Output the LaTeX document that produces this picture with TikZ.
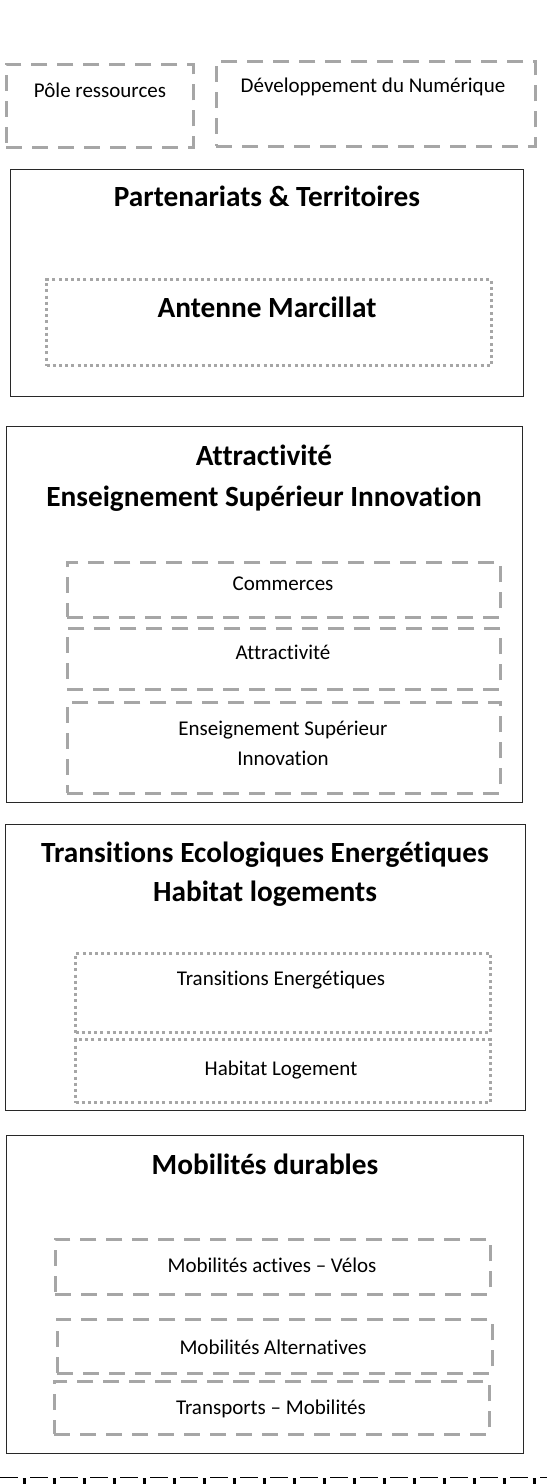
\documentclass[tikz,border=0pt]{standalone}
\usepackage{fontspec}
\setmainfont{Carlito}[Ligatures={NoCommon,TeX}]
\definecolor{boxgray}{RGB}{166,166,166}
\definecolor{framecol}{RGB}{40,40,40}
\newcommand{\bodyfont}{\fontsize{21}{30}\selectfont}
\newcommand{\titlefont}{\bfseries\fontsize{29.3}{40}\selectfont}
\begin{document}
\begin{tikzpicture}[x=1pt,y=-1pt,
  outerbox/.style={draw=framecol,line width=1.3pt,anchor=north west,inner sep=0pt},
  dashbox/.style={draw=boxgray,line width=2.8pt,dash pattern=on 16pt off 10pt,anchor=north west,inner sep=0pt},
  dotbox/.style={draw=boxgray,line width=3pt,dash pattern=on 3pt off 3.2pt,anchor=north west,inner sep=0pt},
  bodytxt/.style={anchor=base,inner sep=0pt,font=\bodyfont},
  titletxt/.style={anchor=base,inner sep=0pt,font=\titlefont}]
\useasboundingbox (0,0) rectangle (547,1484);
% top dashed boxes
\node[dashbox,minimum width=187pt,minimum height=83pt] (pole) at (5,63) {};
\node[bodytxt] (poletxt) at (100,97) {Pôle ressources};
\node[dashbox,minimum width=319pt,minimum height=85pt] (dev) at (215,60) {};
\node[bodytxt] (devtxt) at (373,92) {Développement du Numérique};
% Partenariats
\node[outerbox,minimum width=513pt,minimum height=227pt] (part) at (10,169) {};
\node[titletxt] (parttitle) at (267,206.5) {Partenariats \& Territoires};
\node[dotbox,minimum width=445pt,minimum height=86pt] (ant) at (45,278) {};
\node[titletxt] (anttxt) at (267,317.5) {Antenne Marcillat};
% Attractivite
\node[outerbox,minimum width=516pt,minimum height=376pt] (attr) at (6,426) {};
\node[titletxt] (attrt1) at (264,465.5) {Attractivité};
\node[titletxt] (attrt2) at (264,506.5) {Enseignement Supérieur Innovation};
\node[dashbox,minimum width=433pt,minimum height=55pt] (comm) at (66,561) {};
\node[bodytxt] (commtxt) at (283,590) {Commerces};
\node[dashbox,minimum width=433pt,minimum height=61pt] (attri) at (66,627) {};
\node[bodytxt] (attritxt) at (283,659) {Attractivité};
\node[dashbox,minimum width=433pt,minimum height=91pt] (ens) at (66,701) {};
\node[bodytxt] (enstxt1) at (283,735) {Enseignement Supérieur};
\node[bodytxt] (enstxt2) at (283,765) {Innovation};
% Transitions
\node[outerbox,minimum width=520pt,minimum height=286pt] (trans) at (5,824) {};
\node[titletxt] (transt1) at (265,862.5) {Transitions Ecologiques Energétiques};
\node[titletxt] (transt2) at (265,901.5) {Habitat logements};
\node[dotbox,minimum width=415pt,minimum height=79pt] (te) at (74,952) {};
\node[bodytxt] (tetxt) at (281,985) {Transitions Energétiques};
\node[dotbox,minimum width=415pt,minimum height=63pt] (hl) at (74,1038) {};
\node[bodytxt] (hltxt) at (281,1075) {Habitat Logement};
% Mobilites
\node[outerbox,minimum width=517pt,minimum height=318pt] (mob) at (6,1135) {};
\node[titletxt] (mobt) at (265,1174.5) {Mobilités durables};
\node[dashbox,minimum width=435pt,minimum height=55pt] (ma) at (54,1238) {};
\node[bodytxt] (matxt) at (272,1272) {Mobilités actives – Vélos};
\node[dashbox,minimum width=435pt,minimum height=54pt] (malt) at (56,1318) {};
\node[bodytxt] (malttxt) at (273,1354) {Mobilités Alternatives};
\node[dashbox,minimum width=435pt,minimum height=53pt] (tm) at (53,1380) {};
\node[bodytxt] (tmtxt) at (271,1414) {Transports – Mobilités};
% cut-off dash-dot line at the bottom
\coordinate (ddL) at (0,1477.5);
\coordinate (ddR) at (547,1477.5);
\coordinate (dtL) at (0,1481);
\coordinate (dtR) at (547,1481);
\draw[black,line width=1.6pt,dash pattern=on 18pt off 12pt] (ddL) -- (ddR);
\draw[black,line width=7pt,dash pattern=on 3pt off 27pt,dash phase=7.5pt] (dtL) -- (dtR);
\end{tikzpicture}
\end{document}
